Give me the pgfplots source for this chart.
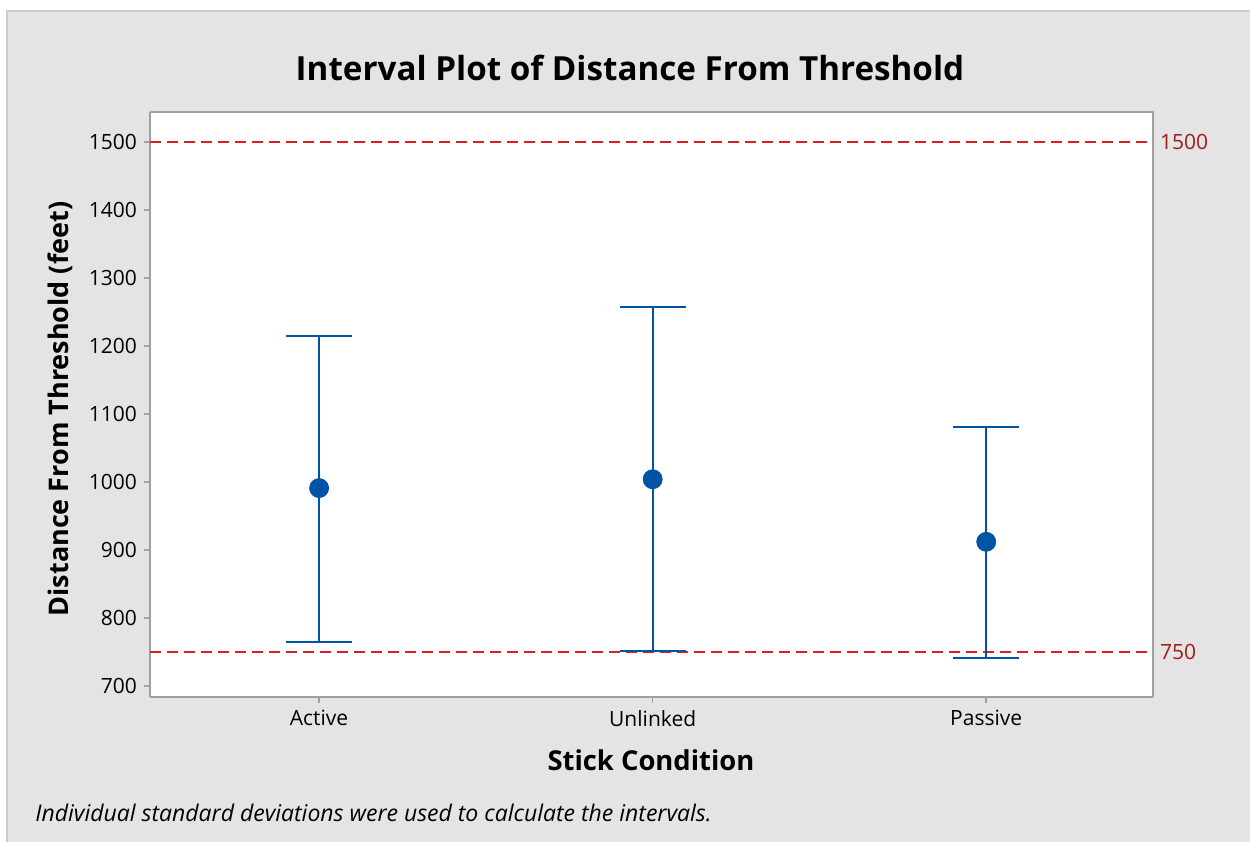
\documentclass[border=0pt]{standalone}
\usepackage{fontspec}
\setmainfont{Open Sans}
\usepackage{pgfplots}
\pgfplotsset{compat=1.18}
\definecolor{bgc}{HTML}{E4E4E4}
\definecolor{bordc}{HTML}{CCCCCC}
\definecolor{axc}{HTML}{A0A0A0}
\definecolor{mblue}{HTML}{0054A6}
\definecolor{refred}{HTML}{D92020}
\definecolor{labred}{HTML}{A31A1A}
\begin{document}
\begin{tikzpicture}
\path[use as bounding box] (0,0) rectangle (625pt,421pt);
\fill[bgc] (3.5pt,0) rectangle (625pt,415.5pt);
\draw[bordc, line width=0.8pt] (3.5pt,0) -- (3.5pt,415.5pt) -- (625pt,415.5pt);
\begin{axis}[
  at={(75pt,72.5pt)}, anchor=south west,
  scale only axis, width=501.5pt, height=292.5pt,
  axis background/.style={fill=white},
  xmin=-0.507, xmax=2.5, ymin=683.8, ymax=1544,
  xtick={0,1,2}, xticklabels={Active,Unlinked,Passive},
  ytick={700,800,900,1000,1100,1200,1300,1400,1500},
  /pgf/number format/assume math mode=true,
  /pgf/number format/1000 sep={},
  tick label style={font=\fontsize{10.5pt}{12pt}\selectfont, color=black},
  xtick pos=bottom, ytick pos=left,
  tick align=outside, major tick length=3pt,
  tick style={axc, line width=0.8pt},
  axis line style={axc, line width=1pt},
  axis x line*=bottom, axis y line*=left,
  clip=false,
]
\addplot[refred, line width=1pt, dash pattern=on 5.5pt off 3pt] coordinates {(-0.507,1500) (2.5,1500)};
\addplot[refred, line width=1pt, dash pattern=on 5.5pt off 3pt] coordinates {(-0.507,750) (2.5,750)};
\draw[axc, line width=1pt] (rel axis cs:0,1) -- (rel axis cs:1,1) -- (rel axis cs:1,0);
\addplot[only marks, mark=*, mark size=4.75pt, mblue, mark options={fill=mblue, draw=mblue},
  error bars/.cd, y dir=both, y explicit,
  error bar style={mblue, line width=1pt},
  error mark options={mblue, line width=1pt, mark size=16.5pt, rotate=90}]
  coordinates {
  (0,991) += (0,224) -= (0,226)
  (1,1004) += (0,253) -= (0,253)
  (2,912) += (0,169) -= (0,171)
  };
\node[anchor=west, text=labred, font=\fontsize{10.5pt}{12pt}\selectfont] at (axis cs:2.5,1500) [xshift=0pt] {1500};
\node[anchor=west, text=labred, font=\fontsize{10.5pt}{12pt}\selectfont] at (axis cs:2.5,750) [xshift=0pt] {750};
\end{axis}
\node[font=\fontsize{16.6pt}{20pt}\selectfont\bfseries] at (315pt,387pt) {Interval Plot of Distance From Threshold};
\node[rotate=90, font=\fontsize{13.5pt}{16pt}\selectfont\bfseries] at (30pt,216.5pt) {Distance From Threshold (feet)};
\node[font=\fontsize{13.7pt}{16pt}\selectfont\bfseries] at (325.5pt,41pt) {Stick Condition};
\node[anchor=west, font=\fontsize{11.5pt}{13pt}\selectfont\itshape, inner sep=0pt] at (17.5pt,14.5pt) {Individual standard deviations were used to calculate the intervals.};
\end{tikzpicture}
\end{document}
